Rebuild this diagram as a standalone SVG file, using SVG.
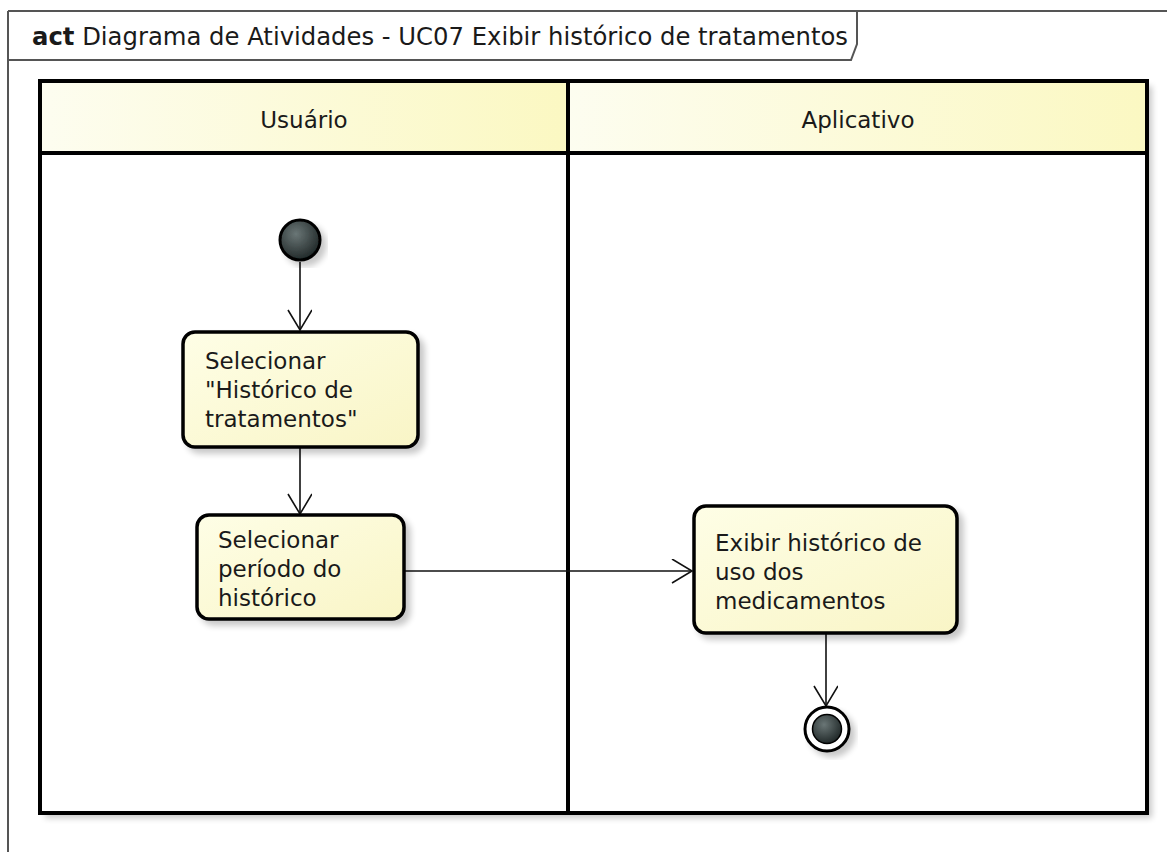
<svg xmlns="http://www.w3.org/2000/svg" width="1167" height="852" viewBox="0 0 1167 852">
<style>
  text { font-family: "DejaVu Sans", "Liberation Sans", sans-serif; fill: #1a1a1a; }
  .t { font-size: 23px; }
  .h { font-size: 23px; text-anchor: middle; }
  .title { font-size: 24.3px; }
  .lane { fill: none; stroke: #000; stroke-width: 4; }
  .act { fill: url(#actFill); stroke: #000; stroke-width: 3.5; filter: url(#shadow); }
  .edge { fill: none; stroke: #111; stroke-width: 1.6; }
  .frame { fill: none; stroke: #555; stroke-width: 2; }
</style>
<defs>
  <linearGradient id="hdrFill" x1="0" y1="0" x2="1" y2="0">
    <stop offset="0" stop-color="#fdfdf0"/>
    <stop offset="1" stop-color="#fbf8c2"/>
  </linearGradient>
  <linearGradient id="actFill" x1="0" y1="0" x2="1" y2="1">
    <stop offset="0" stop-color="#fefee6"/>
    <stop offset="1" stop-color="#f9f5c6"/>
  </linearGradient>
  <radialGradient id="dotFill" cx="0.4" cy="0.35" r="0.7">
    <stop offset="0" stop-color="#6a7676"/>
    <stop offset="1" stop-color="#1c2424"/>
  </radialGradient>
  <filter id="shadow" x="-10%" y="-10%" width="130%" height="130%">
    <feGaussianBlur in="SourceAlpha" stdDeviation="3"/>
    <feOffset dx="5" dy="5" result="b"/>
    <feComponentTransfer><feFuncA type="linear" slope="0.22"/></feComponentTransfer>
    <feMerge><feMergeNode/><feMergeNode in="SourceGraphic"/></feMerge>
  </filter>
  <marker id="open" markerWidth="30" markerHeight="30" refX="22" refY="12" orient="auto" markerUnits="userSpaceOnUse">
    <path d="M2,0 L22,12 L2,24" fill="none" stroke="#111" stroke-width="1.6"/>
  </marker>
</defs>
<rect width="1167" height="852" fill="#fff"/>

<g id="frame">
  <path class="frame" d="M8,11 H1167 M8,11 V852"/>
  <path class="frame" d="M8,60 H851 L857,44 V11"/>
  <text class="title" x="32" y="45"><tspan font-weight="bold">act</tspan> Diagrama de Atividades - UC07 Exibir histórico de tratamentos</text>
</g>

<g id="swimlanes">
  <g filter="url(#shadow)">
    <rect x="40" y="81" width="1107" height="732" fill="#fff"/>
  </g>
  <rect x="40" y="81" width="528" height="72" fill="url(#hdrFill)"/>
  <rect x="568" y="81" width="579" height="72" fill="url(#hdrFill)"/>
  <rect class="lane" x="40" y="81" width="1107" height="732"/>
  <line class="lane" x1="40" y1="153" x2="1147" y2="153"/>
  <line class="lane" x1="568" y1="81" x2="568" y2="813"/>
  <g id="lane-usuario"><text class="h" x="304" y="128">Usuário</text></g>
  <g id="lane-aplicativo"><text class="h" x="858" y="128">Aplicativo</text></g>
</g>

<g id="connectors">
  <line class="edge" x1="300" y1="262" x2="300" y2="330" marker-end="url(#open)"/>
  <line class="edge" x1="300" y1="447" x2="300" y2="514" marker-end="url(#open)"/>
  <line class="edge" x1="405" y1="571" x2="692" y2="571" marker-end="url(#open)"/>
  <line class="edge" x1="826" y1="633" x2="826" y2="706" marker-end="url(#open)"/>
</g>

<g id="initial">
  <circle cx="300" cy="240" r="20" fill="url(#dotFill)" stroke="#000" stroke-width="3" filter="url(#shadow)"/>
</g>

<g id="act1">
  <rect class="act" x="183" y="332" width="235" height="115" rx="12"/>
  <text class="t" x="205" y="369">Selecionar</text>
  <text class="t" x="205" y="398">"Histórico de</text>
  <text class="t" x="205" y="427">tratamentos"</text>
</g>

<g id="act2">
  <rect class="act" x="197" y="515" width="207" height="104" rx="12"/>
  <text class="t" x="218" y="548">Selecionar</text>
  <text class="t" x="218" y="577">período do</text>
  <text class="t" x="218" y="606">histórico</text>
</g>

<g id="act3">
  <rect class="act" x="694" y="506" width="263" height="127" rx="12"/>
  <text class="t" x="715" y="551">Exibir histórico de</text>
  <text class="t" x="715" y="580">uso dos</text>
  <text class="t" x="715" y="609">medicamentos</text>
</g>

<g id="final">
  <circle cx="827" cy="729" r="22" fill="#fff" stroke="#000" stroke-width="3" filter="url(#shadow)"/>
  <circle cx="827" cy="729" r="14.5" fill="url(#dotFill)" stroke="#000" stroke-width="1.5"/>
</g>
</svg>
